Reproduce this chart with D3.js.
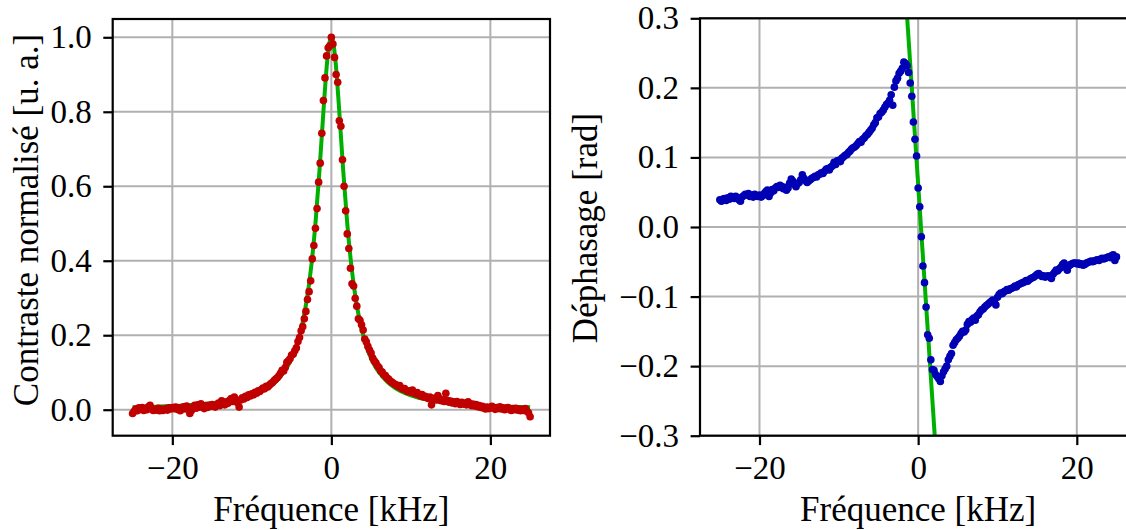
<!DOCTYPE html>
<html><head><meta charset="utf-8">
<script src="https://cdn.jsdelivr.net/npm/d3@7"></script>
<style>html,body{margin:0;padding:0;background:#fff;overflow:hidden}</style>
</head><body><svg id="c" width="1126" height="530"></svg>
<script>
// Frequency sweep (kHz)
const freq = [
-25,-24.8,-24.6,-24.4,-24.2,
-24,-23.8,-23.6,-23.4,-23.2,
-23,-22.8,-22.6,-22.4,-22.2,
-22,-21.8,-21.6,-21.4,-21.2,
-21,-20.8,-20.6,-20.4,-20.2,
-20,-19.8,-19.6,-19.4,-19.2,
-19,-18.8,-18.6,-18.4,-18.2,
-18,-17.8,-17.6,-17.4,-17.2,
-17,-16.8,-16.6,-16.4,-16.2,
-16,-15.8,-15.6,-15.4,-15.2,
-15,-14.8,-14.6,-14.4,-14.2,
-14,-13.8,-13.6,-13.4,-13.2,
-13,-12.8,-12.6,-12.4,-12.2,
-12,-11.8,-11.6,-11.4,-11.2,
-11,-10.8,-10.6,-10.4,-10.2,
-10,-9.8,-9.6,-9.4,-9.2,
-9,-8.8,-8.6,-8.4,-8.2,
-8,-7.8,-7.6,-7.4,-7.2,
-7,-6.8,-6.6,-6.4,-6.2,
-6,-5.8,-5.6,-5.4,-5.2,
-5,-4.8,-4.6,-4.4,-4.2,
-4,-3.8,-3.6,-3.4,-3.2,
-3,-2.8,-2.6,-2.4,-2.2,
-2,-1.8,-1.6,-1.4,-1.2,
-1,-0.8,-0.6,-0.4,-0.2,
0,0.2,0.4,0.6,0.8,
1,1.2,1.4,1.6,1.8,
2,2.2,2.4,2.6,2.8,
3,3.2,3.4,3.6,3.8,
4,4.2,4.4,4.6,4.8,
5,5.2,5.4,5.6,5.8,
6,6.2,6.4,6.6,6.8,
7,7.2,7.4,7.6,7.8,
8,8.2,8.4,8.6,8.8,
9,9.2,9.4,9.6,9.8,
10,10.2,10.4,10.6,10.8,
11,11.2,11.4,11.6,11.8,
12,12.2,12.4,12.6,12.8,
13,13.2,13.4,13.6,13.8,
14,14.2,14.4,14.6,14.8,
15,15.2,15.4,15.6,15.8,
16,16.2,16.4,16.6,16.8,
17,17.2,17.4,17.6,17.8,
18,18.2,18.4,18.6,18.8,
19,19.2,19.4,19.6,19.8,
20,20.2,20.4,20.6,20.8,
21,21.2,21.4,21.6,21.8,
22,22.2,22.4,22.6,22.8,
23,23.2,23.4,23.6,23.8,
24,24.2,24.4,24.6,24.8,
25];

// Normalised contrast (a.u.)
const contrast = [
-0.010,-0.004,0.002,-0.003,0.005,
0.001,0.006,-0.002,0.004,0.000,
0.008,0.012,0.003,-0.002,0.001,
-0.001,0.004,-0.003,0.002,-0.002,
0.000,0.003,-0.001,0.005,0.002,
0.006,0.003,0.007,0.001,0.005,
-0.003,0.004,0.008,0.002,0.010,
0.004,-0.010,-0.002,0.006,0.012,
0.004,0.013,0.007,0.016,0.008,
0.003,0.011,0.006,0.012,0.009,
0.014,0.010,0.007,0.013,0.018,
0.011,0.024,0.016,0.013,0.021,
0.017,0.025,0.030,0.022,0.034,
0.027,0.019,0.007,0.026,0.032,
0.029,0.036,0.033,0.040,0.037,
0.043,0.040,0.047,0.044,0.051,
0.049,0.054,0.058,0.056,0.063,
0.061,0.066,0.070,0.073,0.078,
0.082,0.086,0.091,0.098,0.106,
0.104,0.113,0.127,0.131,0.137,
0.147,0.149,0.158,0.166,0.183,
0.194,0.212,0.223,0.244,0.264,
0.296,0.317,0.346,0.405,0.441,
0.487,0.540,0.611,0.662,0.742,
0.830,0.891,0.950,0.972,0.977,
1.000,0.982,0.946,0.900,0.879,
0.776,0.761,0.671,0.600,0.534,
0.472,0.433,0.380,0.338,0.332,
0.299,0.278,0.244,0.240,0.228,
0.214,0.190,0.182,0.170,0.160,
0.152,0.139,0.131,0.126,0.118,
0.113,0.104,0.101,0.094,0.092,
0.085,0.082,0.077,0.074,0.071,
0.068,0.066,0.062,0.065,0.058,
0.055,0.057,0.052,0.049,0.051,
0.047,0.053,0.044,0.042,0.046,
0.040,0.037,0.041,0.034,0.036,
0.033,0.030,0.034,0.013,0.028,
0.031,0.026,0.038,0.029,0.024,
0.027,0.022,0.044,0.025,0.020,
0.023,0.018,0.021,0.016,0.022,
0.019,0.014,0.020,0.015,0.018,
0.013,0.021,0.016,0.011,0.015,
0.010,0.014,0.008,0.011,0.006,
0.009,0.004,0.002,0.007,0.003,
0.005,0.009,0.004,0.001,0.006,
0.003,0.008,0.002,0.005,0.000,
0.004,0.006,0.001,-0.002,0.003,
0.000,0.004,-0.001,0.002,-0.003,
0.001,-0.002,0.003,-0.004,-0.008,
-0.019];

// Phase shift (rad)
const phase = [
0.039,0.037,0.040,0.041,0.038,
0.042,0.040,0.044,0.043,0.041,
0.044,0.042,0.039,0.037,0.043,
0.045,0.047,0.046,0.048,0.044,
0.046,0.043,0.047,0.045,0.044,
0.046,0.043,0.045,0.048,0.051,
0.053,0.044,0.049,0.054,0.052,
0.056,0.058,0.057,0.060,0.058,
0.055,0.057,0.053,0.056,0.063,
0.069,0.066,0.061,0.058,0.062,
0.064,0.068,0.075,0.070,0.067,
0.064,0.066,0.068,0.070,0.071,
0.073,0.072,0.075,0.076,0.078,
0.077,0.080,0.083,0.084,0.082,
0.086,0.088,0.093,0.090,0.095,
0.096,0.094,0.099,0.101,0.103,
0.104,0.107,0.109,0.112,0.114,
0.115,0.117,0.120,0.123,0.122,
0.126,0.128,0.131,0.133,0.136,
0.139,0.142,0.147,0.150,0.157,
0.158,0.163,0.165,0.168,0.172,
0.176,0.178,0.182,0.190,0.175,
0.201,0.210,0.214,0.221,0.224,
0.228,0.237,0.235,0.232,0.222,
0.207,0.188,0.151,0.126,0.102,
0.056,0.029,-0.014,-0.056,-0.080,
-0.115,-0.155,-0.160,-0.191,-0.205,
-0.206,-0.212,-0.215,-0.218,-0.222,
-0.214,-0.208,-0.204,-0.200,-0.191,
-0.186,-0.182,-0.170,-0.166,-0.162,
-0.160,-0.157,-0.153,-0.150,-0.151,
-0.148,-0.140,-0.136,-0.137,-0.133,
-0.131,-0.134,-0.128,-0.126,-0.122,
-0.119,-0.118,-0.115,-0.113,-0.111,
-0.109,-0.107,-0.105,-0.108,-0.112,
-0.101,-0.097,-0.095,-0.096,-0.093,
-0.092,-0.090,-0.091,-0.089,-0.088,
-0.087,-0.085,-0.086,-0.083,-0.082,
-0.081,-0.080,-0.079,-0.077,-0.078,
-0.076,-0.074,-0.073,-0.072,-0.070,
-0.068,-0.067,-0.069,-0.071,-0.070,
-0.072,-0.071,-0.070,-0.072,-0.074,
-0.068,-0.065,-0.062,-0.063,-0.060,
-0.058,-0.054,-0.052,-0.058,-0.062,
-0.056,-0.054,-0.053,-0.052,-0.052,
-0.053,-0.052,-0.054,-0.053,-0.055,
-0.054,-0.052,-0.051,-0.050,-0.049,
-0.050,-0.049,-0.048,-0.047,-0.048,
-0.046,-0.045,-0.046,-0.045,-0.044,
-0.043,-0.044,-0.041,-0.040,-0.048,
-0.043];

// Lorentzian fit curve (left panel)
const fitFreqL = [-25,-22,-20,-18,-16,-14,-12,-10,-9,-8,-7,-6,-5.5,-5,-4.5,-4,-3.5,-3,-2.5,-2,-1.5,-1,-0.5,-0.25,0,0.25,0.5,1,1.5,2,2.5,3,3.5,4,4.5,5,5.5,6,7,8,9,10,12,14,16,18,20,22,25];
const fitContrast = [0.0064,0.0082,0.0099,0.0122,0.0154,0.0200,0.0270,0.0385,0.0471,0.0588,0.0755,0.1000,0.1168,0.1379,0.1649,0.2000,0.2462,0.3077,0.3902,0.5000,0.6400,0.8000,0.9412,0.9846,1.0000,0.9846,0.9412,0.8000,0.6400,0.5000,0.3902,0.3077,0.2462,0.2000,0.1649,0.1379,0.1168,0.1000,0.0755,0.0588,0.0471,0.0385,0.0270,0.0200,0.0154,0.0122,0.0099,0.0082,0.0064];

// Linear slope fit (right panel)
const fitFreqR = [-1.5, 2.2];
const fitPhase = [0.3207, -0.3190];

// Ticks
const xTicks = [-20, 0, 20];
const xTickLabels = ["\u221220", "0", "20"];
const yTicksL = [0, 0.2, 0.4, 0.6, 0.8, 1.0];
const yTickLabelsL = ["0.0", "0.2", "0.4", "0.6", "0.8", "1.0"];
const yTicksR = [-0.3, -0.2, -0.1, 0, 0.1, 0.2, 0.3];
const yTickLabelsR = ["\u22120.3", "\u22120.2", "\u22120.1", "0.0", "0.1", "0.2", "0.3"];

const svg = d3.select('#c');
const FONT = '"Liberation Serif", "Times New Roman", serif';
const FS = 33;
const FS_LABEL = 35;

function panel(cfg) {
  const x = d3.scaleLinear().domain(cfg.xDomain).range([cfg.left, cfg.right]);
  const y = d3.scaleLinear().domain(cfg.yDomain).range([cfg.bottom, cfg.top]);
  const g = svg.append('g');
  const clipId = cfg.id + 'clip';
  svg.append('clipPath').attr('id', clipId).append('rect')
    .attr('x', cfg.left).attr('y', cfg.top)
    .attr('width', cfg.right - cfg.left).attr('height', cfg.bottom - cfg.top);

  // grid
  g.append('g').selectAll('line').data(cfg.xTicks).join('line')
    .attr('x1', d => x(d)).attr('x2', d => x(d))
    .attr('y1', cfg.top).attr('y2', cfg.bottom)
    .attr('stroke', '#b0b0b0').attr('stroke-width', 2);
  g.append('g').selectAll('line').data(cfg.yTicks).join('line')
    .attr('y1', d => y(d)).attr('y2', d => y(d))
    .attr('x1', cfg.left).attr('x2', cfg.right)
    .attr('stroke', '#b0b0b0').attr('stroke-width', 2);

  // fit
  const fitPts = cfg.fitX.map((v, i) => [v, cfg.fitY[i]]);
  g.append('path').datum(fitPts)
    .attr('clip-path', `url(#${clipId})`)
    .attr('d', d3.line().x(d => x(d[0])).y(d => y(d[1])).curve(d3.curveMonotoneX))
    .attr('fill', 'none').attr('stroke', '#00b000').attr('stroke-width', 4)
    .attr('stroke-linejoin', 'round');

  // data points
  const pts = cfg.xs.map((v, i) => [v, cfg.ys[i]]);
  g.append('g').attr('clip-path', `url(#${clipId})`)
    .selectAll('circle').data(pts).join('circle')
    .attr('cx', d => x(d[0])).attr('cy', d => y(d[1]))
    .attr('r', 3.8).attr('fill', cfg.color);

  // axes
  const ax = d3.axisBottom(x).tickValues(cfg.xTicks)
    .tickFormat((d, i) => cfg.xTickLabels[i]).tickSize(9.4).tickPadding(10.5);
  const axG = g.append('g').attr('transform', `translate(0,${cfg.bottom})`).call(ax);
  const ay = d3.axisLeft(y).tickValues(cfg.yTicks)
    .tickFormat((d, i) => cfg.yTickLabels[i]).tickSize(9.4).tickPadding(11.5);
  const ayG = g.append('g').attr('transform', `translate(${cfg.left},0)`).call(ay);
  [axG, ayG].forEach(s => {
    s.select('.domain').remove();
    s.selectAll('.tick line').attr('stroke', '#000').attr('stroke-width', 2.2);
    s.selectAll('.tick text').attr('font-family', FONT).attr('font-size', FS).attr('fill', '#000');
  });

  // spines
  g.append('rect').attr('x', cfg.left).attr('y', cfg.top)
    .attr('width', cfg.right - cfg.left).attr('height', cfg.bottom - cfg.top)
    .attr('fill', 'none').attr('stroke', '#000').attr('stroke-width', 2.2);

  // labels
  g.append('text').attr('x', (cfg.left + cfg.right) / 2).attr('y', 521)
    .attr('text-anchor', 'middle').attr('font-family', FONT).attr('font-size', FS_LABEL)
    .text(cfg.xLabel);
  g.append('text').attr('transform', `translate(${cfg.yLabelX},${cfg.yLabelY}) rotate(-90)`)
    .attr('text-anchor', 'middle').attr('font-family', FONT).attr('font-size', FS_LABEL)
    .text(cfg.yLabel);
}

panel({
  id: 'L', left: 112.7, right: 550, top: 19, bottom: 435.7,
  xDomain: [-27.5, 27.5], yDomain: [-0.0698, 1.0491],
  xs: freq, ys: contrast, fitX: fitFreqL, fitY: fitContrast, color: '#c00000',
  xTicks: xTicks, xTickLabels: xTickLabels, yTicks: yTicksL, yTickLabels: yTickLabelsL,
  xLabel: 'Fréquence [kHz]', yLabel: 'Contraste normalisé [u. a.]', yLabelX: 38, yLabelY: 220
});
panel({
  id: 'R', left: 700, right: 1136.3, top: 18.3, bottom: 435.7,
  xDomain: [-27.5, 27.5], yDomain: [-0.3, 0.3],
  xs: freq, ys: phase, fitX: fitFreqR, fitY: fitPhase, color: '#0000b4',
  xTicks: xTicks, xTickLabels: xTickLabels, yTicks: yTicksR, yTickLabels: yTickLabelsR,
  xLabel: 'Fréquence [kHz]', yLabel: 'Déphasage [rad]', yLabelX: 597, yLabelY: 228
});
</script></body></html>
